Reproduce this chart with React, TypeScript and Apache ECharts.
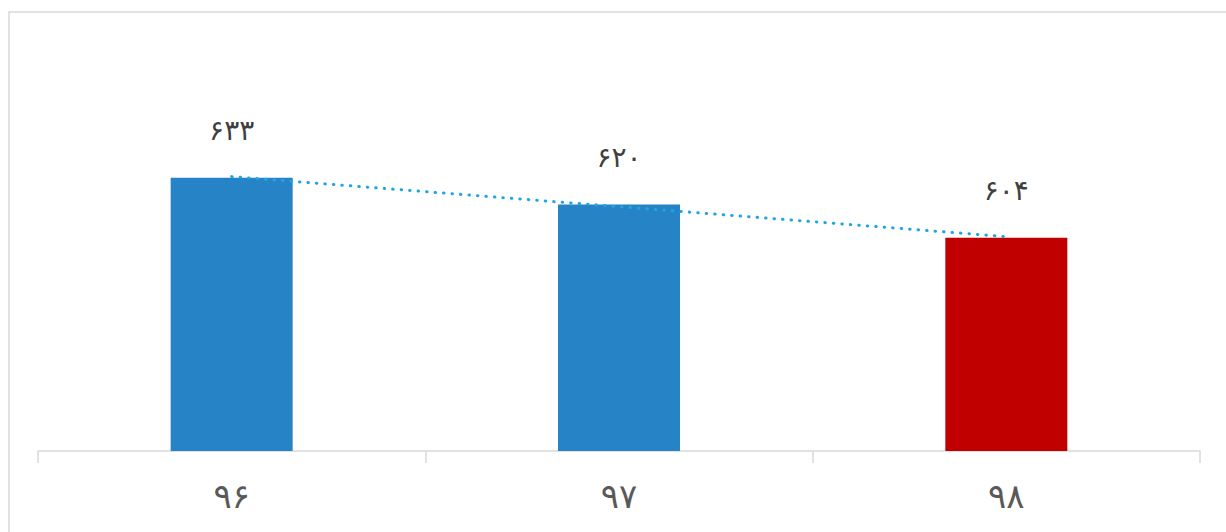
import React, { useEffect, useRef } from "react";
import * as echarts from "echarts";

const categories = ["۹۶", "۹۷", "۹۸"];
const values = [633, 620, 604];
const valueLabels = ["۶۳۳", "۶۲۰", "۶۰۴"];
const barColors = ["#2683C6", "#2683C6", "#C00000"];
const trendValues = [633.5, 619, 604.5];

export default function App() {
  const ref = useRef<HTMLDivElement>(null);
  useEffect(() => {
    if (!ref.current) return;
    const chart = echarts.init(ref.current, null, { renderer: "svg" });
    chart.setOption({
      animation: false,
      backgroundColor: "#ffffff",
      grid: { left: 38, right: 26, top: 12, bottom: 81, containLabel: false },
      xAxis: {
        type: "category",
        data: categories,
        axisLine: { lineStyle: { color: "#D9D9D9", width: 1.5 } },
        axisTick: { show: true, length: 12, lineStyle: { color: "#D9D9D9", width: 1.5 } },
        axisLabel: {
          color: "#595959",
          fontSize: 34,
          fontFamily: "DejaVu Sans",
          margin: 28,
        },
      },
      yAxis: {
        type: "value",
        min: 501,
        max: 713,
        show: false,
        splitLine: { show: false },
      },
      graphic: [
        {
          type: "rect",
          shape: { x: 9, y: 12, width: 1400, height: 700 },
          style: { fill: "none", stroke: "#D9D9D9", lineWidth: 1.5 },
          silent: true,
          z: -1,
        },
      ],
      series: [
        {
          type: "bar",
          barWidth: 122,
          data: values.map((v, i) => ({
            value: v,
            itemStyle: { color: barColors[i] },
            label: { formatter: valueLabels[i] },
          })),
          label: {
            show: true,
            position: "top",
            distance: 33,
            color: "#404040",
            fontSize: 28,
            fontFamily: "DejaVu Sans",
          },
        },
        {
          type: "line",
          data: trendValues,
          symbol: "none",
          silent: true,
          lineStyle: { color: "#1FA5E3", width: 3, type: [0.5, 8], cap: "round" },
          z: 5,
        },
      ],
    });
    return () => chart.dispose();
  }, []);
  return (
    <div
      ref={ref}
      style={{ position: "fixed", left: 0, top: 0, width: 1226, height: 532 }}
    />
  );
}
